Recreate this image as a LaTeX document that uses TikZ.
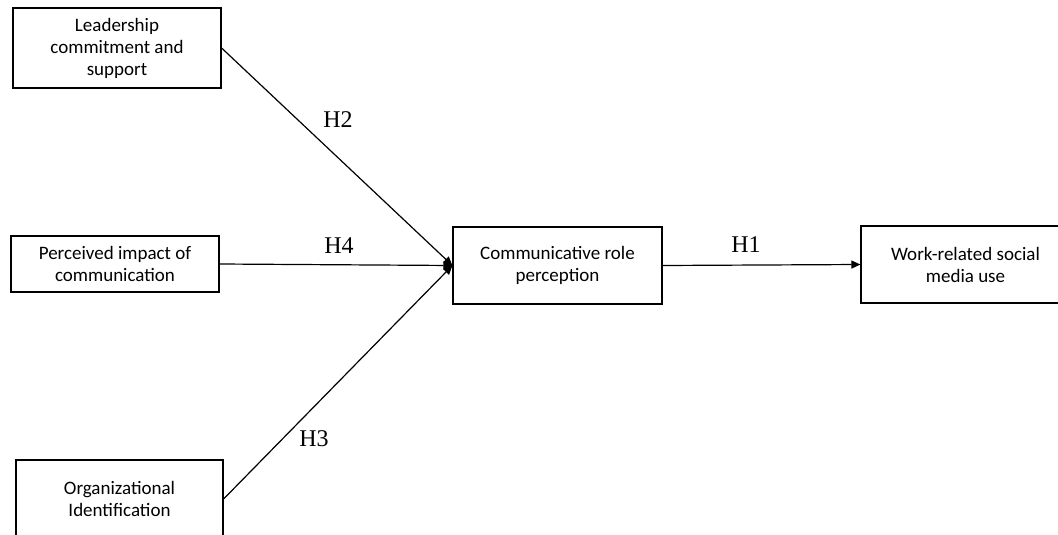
\documentclass[tikz,border=0pt]{standalone}
\usepackage{fontspec}
\setmainfont{Liberation Serif}
\newfontfamily\boxfont{Carlito}
\usetikzlibrary{arrows.meta}
\begin{document}
\begin{tikzpicture}[x=1pt,y=-1pt,
  cbox/.style={draw=black, line width=1.2pt, fill=white, align=center,
    inner sep=0pt, font=\boxfont\fontsize{19}{22}\selectfont},
  link/.style={line width=1.2pt, -{Triangle[length=9pt,width=8pt]}},
  hlab/.style={font=\fontsize{24}{28}\selectfont, inner sep=0pt}]
\clip (0,0) rectangle (1058,535);
\fill[white] (0,0) rectangle (1058,535);
\node[cbox, minimum width=208pt, minimum height=80pt] (lead) at (117,48)
  {Leadership\\commitment and\\support};
\node[cbox, minimum width=208pt, minimum height=56pt] (perc) at (115,264)
  {Perceived impact of\\communication};
\node[cbox, minimum width=207pt, minimum height=78pt] (org) at (119.5,499)
  {Organizational\\Identification};
\node[cbox, minimum width=209pt, minimum height=77pt] (comm) at (557.5,265.5)
  {Communicative role\\perception};
\node[cbox, minimum width=209pt, minimum height=77pt] (work) at (965.5,264.5)
  {Work-related social\\media use};
\draw[link] (lead.east) -- (comm.west);
\draw[link] (perc.east) -- (comm.west);
\draw[link] (org.east) -- (comm.west);
\draw[link] (comm.east) -- (work.west);
\node[hlab] (h2) at (338,120) {H2};
\node[hlab] (h4) at (339,246) {H4};
\node[hlab] (h3) at (314,439) {H3};
\node[hlab] (h1) at (746,245) {H1};
\end{tikzpicture}
\end{document}
